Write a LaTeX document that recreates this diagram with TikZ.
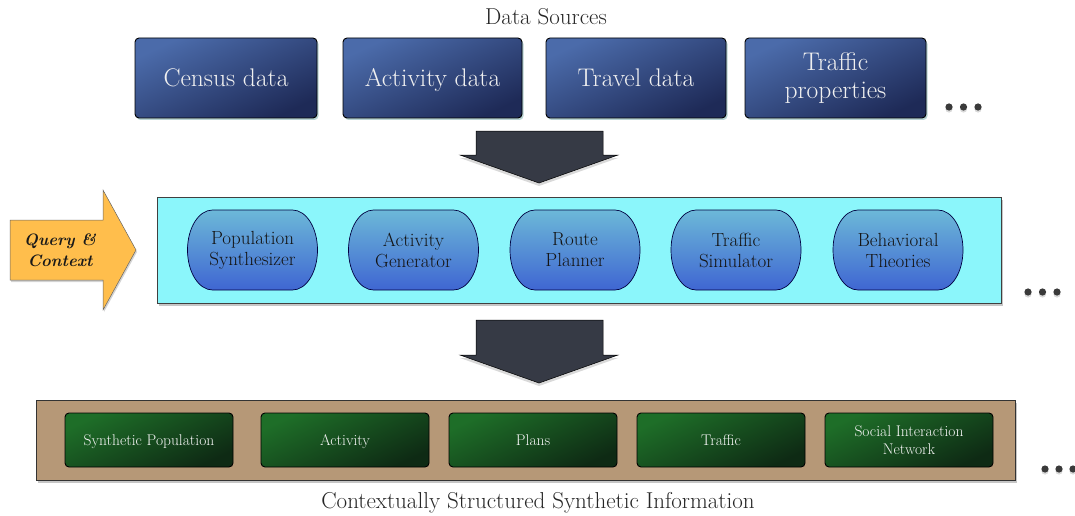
\documentclass[tikz,border=0pt]{standalone}
\usetikzlibrary{shadows}
\definecolor{boxtop}{HTML}{4B6BAA}
\definecolor{boxbot}{HTML}{1E2A57}
\definecolor{cyanbg}{HTML}{8BF6FB}
\definecolor{modtop}{HTML}{6CB8D8}
\definecolor{modbot}{HTML}{3F66D2}
\definecolor{brownbg}{HTML}{B69877}
\definecolor{grtop}{HTML}{1E6E28}
\definecolor{grbot}{HTML}{0E2A14}
\definecolor{arrowdark}{HTML}{363A45}
\definecolor{qorange}{HTML}{FFBE4C}
\definecolor{dotc}{HTML}{3A3A3A}
\tikzset{
  srcbox/.style={draw=black, line width=0.9pt, rounded corners=4pt,
    top color=boxtop, bottom color=boxbot, shading angle=25,
    minimum height=80pt, text=white!94!black, align=center,
    font=\fontsize{25.5}{28}\selectfont,
    drop shadow={shadow xshift=1.5pt, shadow yshift=-2pt, opacity=0.35, fill=teal!60!gray}},
  onelinebig/.style={text height=18pt, text depth=1pt},
  onelinesmall/.style={text height=11pt, text depth=0.5pt},
  modshape/.style={draw=black!75!blue, line width=0.7pt,
    top color=modtop, bottom color=modbot},
  modtext/.style={align=center, text=black!92,
    font=\fontsize{19}{21}\selectfont},
  grbox/.style={draw=black, line width=0.9pt, rounded corners=4pt,
    top color=grtop, bottom color=grbot, shading angle=25,
    minimum width=168pt, minimum height=54pt, align=center, text=white!96!black,
    font=\fontsize{15.5}{18}\selectfont},
  panel/.style={line width=0.6pt,
    drop shadow={shadow xshift=2pt, shadow yshift=-3pt, opacity=0.45}},
  bigarrow/.style={fill=arrowdark, draw=black, line width=0.5pt,
    drop shadow={shadow xshift=0pt, shadow yshift=-3pt, opacity=0.3}},
  dotdot/.style={fill=dotc, draw=none,
    drop shadow={shadow xshift=0pt, shadow yshift=-2pt, opacity=0.3}},
  caption/.style={font=\fontsize{23}{26}\selectfont, text=black!85}
}
\begin{document}
\begin{tikzpicture}[x=1pt,y=-1pt]
\useasboundingbox (0,0) rectangle (1075,516);

% titles
\node[caption] (title) at (546,17) {Data Sources};
\node[caption] (bottitle) at (538,503) {Contextually Structured Synthetic Information};

% data sources
\node[srcbox, onelinebig, minimum width=182pt] (census) at (226,78) {Census data};
\node[srcbox, onelinebig, minimum width=179pt] (activitydata) at (432.5,78) {Activity data};
\node[srcbox, onelinebig, minimum width=180pt] (travel) at (636,78) {Travel data};
\node[srcbox, minimum width=181pt] (trafficprop) at (835.5,78) {Traffic\\properties};
\foreach \x in {949,963.5,978}
  \fill[dotdot] (\x,107) circle (3.6pt);

% arrow 1
\path[bigarrow] (476,131) -- (603,131) -- (603,155) -- (618,155) -- (539,183)
  -- (460,155) -- (476,155) -- cycle;

% middle panel
\node[panel, draw=black!75, fill=cyanbg, minimum width=844pt, minimum height=106pt]
  (midpanel) at (579,250) {};
\foreach \cx in {252.5,413.5,575,736,898}
  \shade[modshape] (\cx-40,210) -- (\cx+40,210)
    arc[start angle=-90, end angle=90, x radius=25, y radius=40]
    -- (\cx-40,290)
    arc[start angle=90, end angle=270, x radius=25, y radius=40] -- cycle;
\node[modtext] (popsyn) at (252.5,250) {Population\\Synthesizer};
\node[modtext] (actgen) at (413.5,250) {Activity\\Generator};
\node[modtext] (route) at (575,250) {Route\\Planner};
\node[modtext] (trafsim) at (736,250) {Traffic\\Simulator};
\node[modtext] (behav) at (898,250) {Behavioral\\Theories};
\foreach \x in {1028,1042.5,1057}
  \fill[dotdot] (\x,292) circle (3.6pt);

% query arrow
\path[fill=qorange, draw=black!60, line width=0.5pt,
  drop shadow={shadow xshift=1pt, shadow yshift=-2pt, opacity=0.35}]
  (10,220) -- (103,220) -- (103,190) -- (136,250) -- (103,310) -- (103,280)
  -- (10,280) -- cycle;
\node[align=center, font=\fontsize{16.5}{21}\selectfont\bfseries\itshape, text=black!90]
  (query) at (60,250) {Query \&\\Context};

% arrow 2
\path[bigarrow] (476,320) -- (603,320) -- (603,355) -- (618,355) -- (539,383)
  -- (460,355) -- (476,355) -- cycle;

% bottom panel
\node[panel, draw=black!80, fill=brownbg, minimum width=979pt, minimum height=80pt]
  (botpanel) at (525.5,440) {};
\node[grbox, onelinesmall] (synpop) at (149,440) {Synthetic Population};
\node[grbox, onelinesmall] (activity) at (345,440) {Activity};
\node[grbox, onelinesmall] (plans) at (533,440) {Plans};
\node[grbox, onelinesmall] (traffic) at (721,440) {Traffic};
\node[grbox] (social) at (909,440) {Social Interaction\\Network};
\foreach \x in {1045,1059,1073}
  \fill[dotdot] (\x,469) circle (3.6pt);
\end{tikzpicture}
\end{document}
